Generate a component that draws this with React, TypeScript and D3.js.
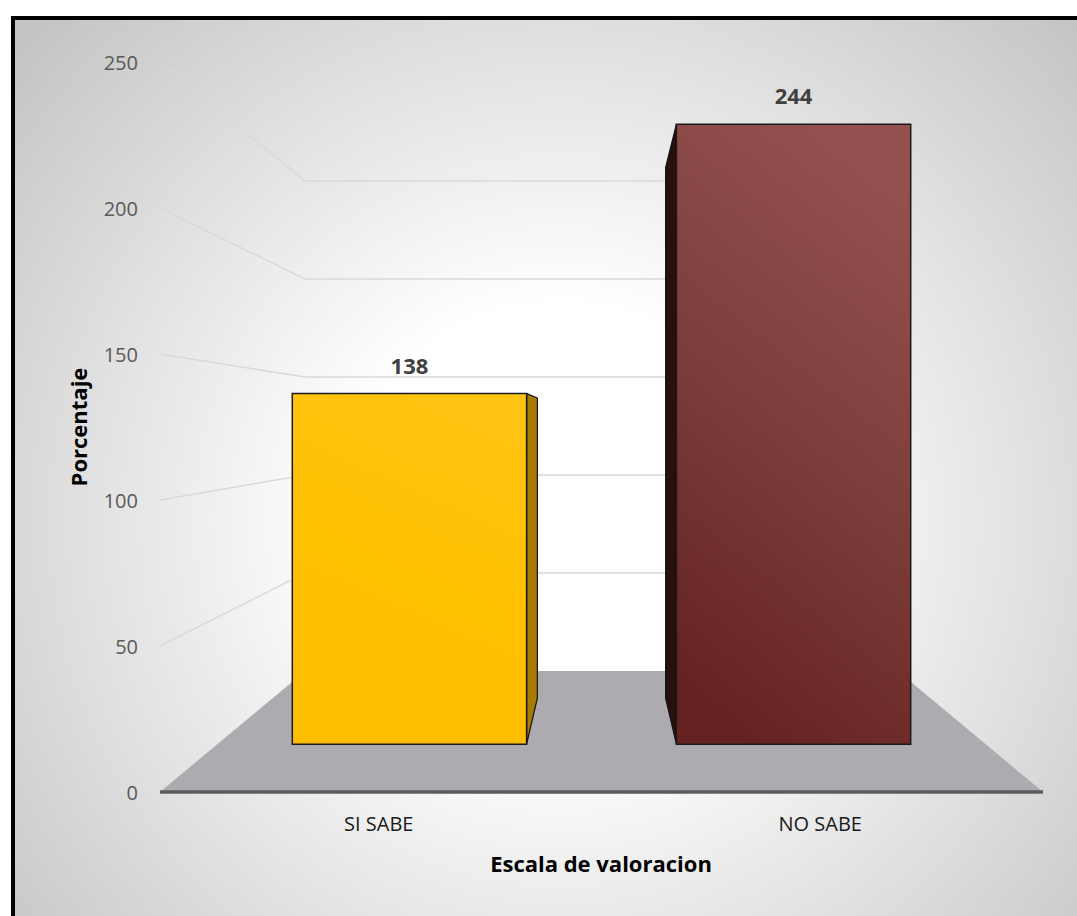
import React from "react";
import * as d3 from "d3";

// Chart data
const categories: string[] = ["SI SABE", "NO SABE"];
const values: number[] = [138, 244];
const yTicks: number[] = [0, 50, 100, 150, 200, 250];
const barFront: string[] = ["#ffc000", "#7d3d3b"];
const barFrontLight: string[] = ["#ffc412", "#935250"];
const barFrontDark: string[] = ["#fdbe00", "#642321"];
const barSide: string[] = ["#a67c00", "#2b0f0f"];

const W = 1077;
const H = 916;

// Front plane geometry (depth factor 1) and perspective
const FRONT_LEFT = 160;
const FRONT_RIGHT = 1043;
const FLOOR_Y = 792;
const TOP_Y = 62;
const VP: [number, number] = [601.5, 424];
const K_BACK = 0.671;
const K_BAR_FRONT = 0.87;
const K_BAR_BACK = 0.745;

const yScale = d3.scaleLinear().domain([0, 250]).range([FLOOR_Y, TOP_Y]);
const xScale = d3
  .scaleBand<string>()
  .domain(categories)
  .range([FRONT_LEFT, FRONT_RIGHT])
  .paddingInner(0.39)
  .paddingOuter(0.195);

function project(x: number, y: number, k: number): [number, number] {
  return [VP[0] + (x - VP[0]) * k, VP[1] + (y - VP[1]) * k];
}

const poly = (pts: [number, number][]) =>
  pts.map((p) => `${p[0].toFixed(2)},${p[1].toFixed(2)}`).join(" ");

const FONT = "'Open Sans', 'Noto Sans', sans-serif";

export default function App() {
  const line = d3.line<[number, number]>();

  const floor: [number, number][] = [
    project(FRONT_LEFT, FLOOR_Y, 1),
    project(FRONT_RIGHT, FLOOR_Y, 1),
    project(FRONT_RIGHT, FLOOR_Y, K_BACK),
    project(FRONT_LEFT, FLOOR_Y, K_BACK),
  ];

  const gridTicks = yTicks.filter((t) => t > 0);

  return (
    <svg
      width={W}
      height={H}
      viewBox={`0 0 ${W} ${H}`}
      style={{ position: "absolute", left: 0, top: 0, display: "block" }}
    >
      <defs>
        <radialGradient id="bg" gradientUnits="userSpaceOnUse" cx={560} cy={520} r={720}>
          <stop offset="0" stopColor="#ffffff" />
          <stop offset="0.3" stopColor="#ffffff" />
          <stop offset="1" stopColor="#c4c4c4" />
        </radialGradient>
        {categories.map((c, i) => (
          <linearGradient key={c} id={`front${i}`} x1="0.65" y1="0" x2="0.35" y2="1">
            <stop offset="0" stopColor={barFrontLight[i]} />
            <stop offset="0.5" stopColor={barFront[i]} />
            <stop offset="1" stopColor={barFrontDark[i]} />
          </linearGradient>
        ))}
      </defs>

      <rect x={0} y={0} width={W} height={H} fill="#ffffff" />
      <rect x={13} y={18} width={W + 40} height={H + 40} fill="url(#bg)" stroke="#000" strokeWidth={4} />

      {/* side wall and back wall gridlines */}
      <g fill="none" stroke="#d9d9d9" strokeWidth={1.5}>
        {gridTicks.map((t) => {
          const y = yScale(t);
          const pts: [number, number][] = [
            project(FRONT_LEFT, y, 1),
            project(FRONT_LEFT, y, K_BACK),
            project(FRONT_RIGHT, y, K_BACK),
          ];
          return <path key={t} d={line(pts) || ""} />;
        })}
      </g>

      {/* floor */}
      <polygon points={poly(floor)} fill="#adaab0" />
      <path
        d={line([project(FRONT_LEFT, FLOOR_Y, 1), project(FRONT_RIGHT, FLOOR_Y, 1)]) || ""}
        stroke="#5c5c5c"
        strokeWidth={3.5}
      />

      {/* bars */}
      {categories.map((c, i) => {
        const x0 = xScale(c) as number;
        const x1 = x0 + xScale.bandwidth();
        const yb = yScale(0);
        const yt = yScale(values[i]);
        const cx = (x0 + x1) / 2;
        const sideX = cx < VP[0] ? x1 : x0;
        const side: [number, number][] = [
          project(sideX, yb, K_BAR_FRONT),
          project(sideX, yb, K_BAR_BACK),
          project(sideX, yt, K_BAR_BACK),
          project(sideX, yt, K_BAR_FRONT),
        ];
        const front: [number, number][] = [
          project(x0, yb, K_BAR_FRONT),
          project(x1, yb, K_BAR_FRONT),
          project(x1, yt, K_BAR_FRONT),
          project(x0, yt, K_BAR_FRONT),
        ];
        const lbl = project(cx, yt, K_BAR_FRONT);
        return (
          <g key={c}>
            <polygon points={poly(side)} fill={barSide[i]} stroke="#111" strokeWidth={1.2} strokeLinejoin="round" />
            <polygon points={poly(front)} fill={`url(#front${i})`} stroke="#1a1a1a" strokeWidth={1.5} />
            <text
              x={lbl[0]}
              y={lbl[1] - 20}
              textAnchor="middle"
              fontFamily={FONT}
              fontWeight={700}
              fontSize={22}
              fill="#404040"
            >
              {values[i]}
            </text>
          </g>
        );
      })}

      {/* value axis labels */}
      <g fontFamily={FONT} fontSize={20} fill="#595959" textAnchor="end">
        {yTicks.map((t) => (
          <text key={t} x={138} y={yScale(t) + 8}>
            {t}
          </text>
        ))}
      </g>

      {/* category labels */}
      <g fontFamily={FONT} fontSize={20} fill="#1a1a1a" textAnchor="middle">
        {categories.map((c) => (
          <text key={c} x={(xScale(c) as number) + xScale.bandwidth() / 2 - 2} y={831}>
            {c}
          </text>
        ))}
      </g>

      {/* axis titles */}
      <text
        x={601}
        y={872}
        textAnchor="middle"
        fontFamily={FONT}
        fontWeight={700}
        fontSize={22}
        fill="#000"
      >
        Escala de valoracion
      </text>
      <text
        transform="translate(87,427) rotate(-90)"
        textAnchor="middle"
        fontFamily={FONT}
        fontWeight={700}
        fontSize={22}
        fill="#000"
      >
        Porcentaje
      </text>
    </svg>
  );
}
